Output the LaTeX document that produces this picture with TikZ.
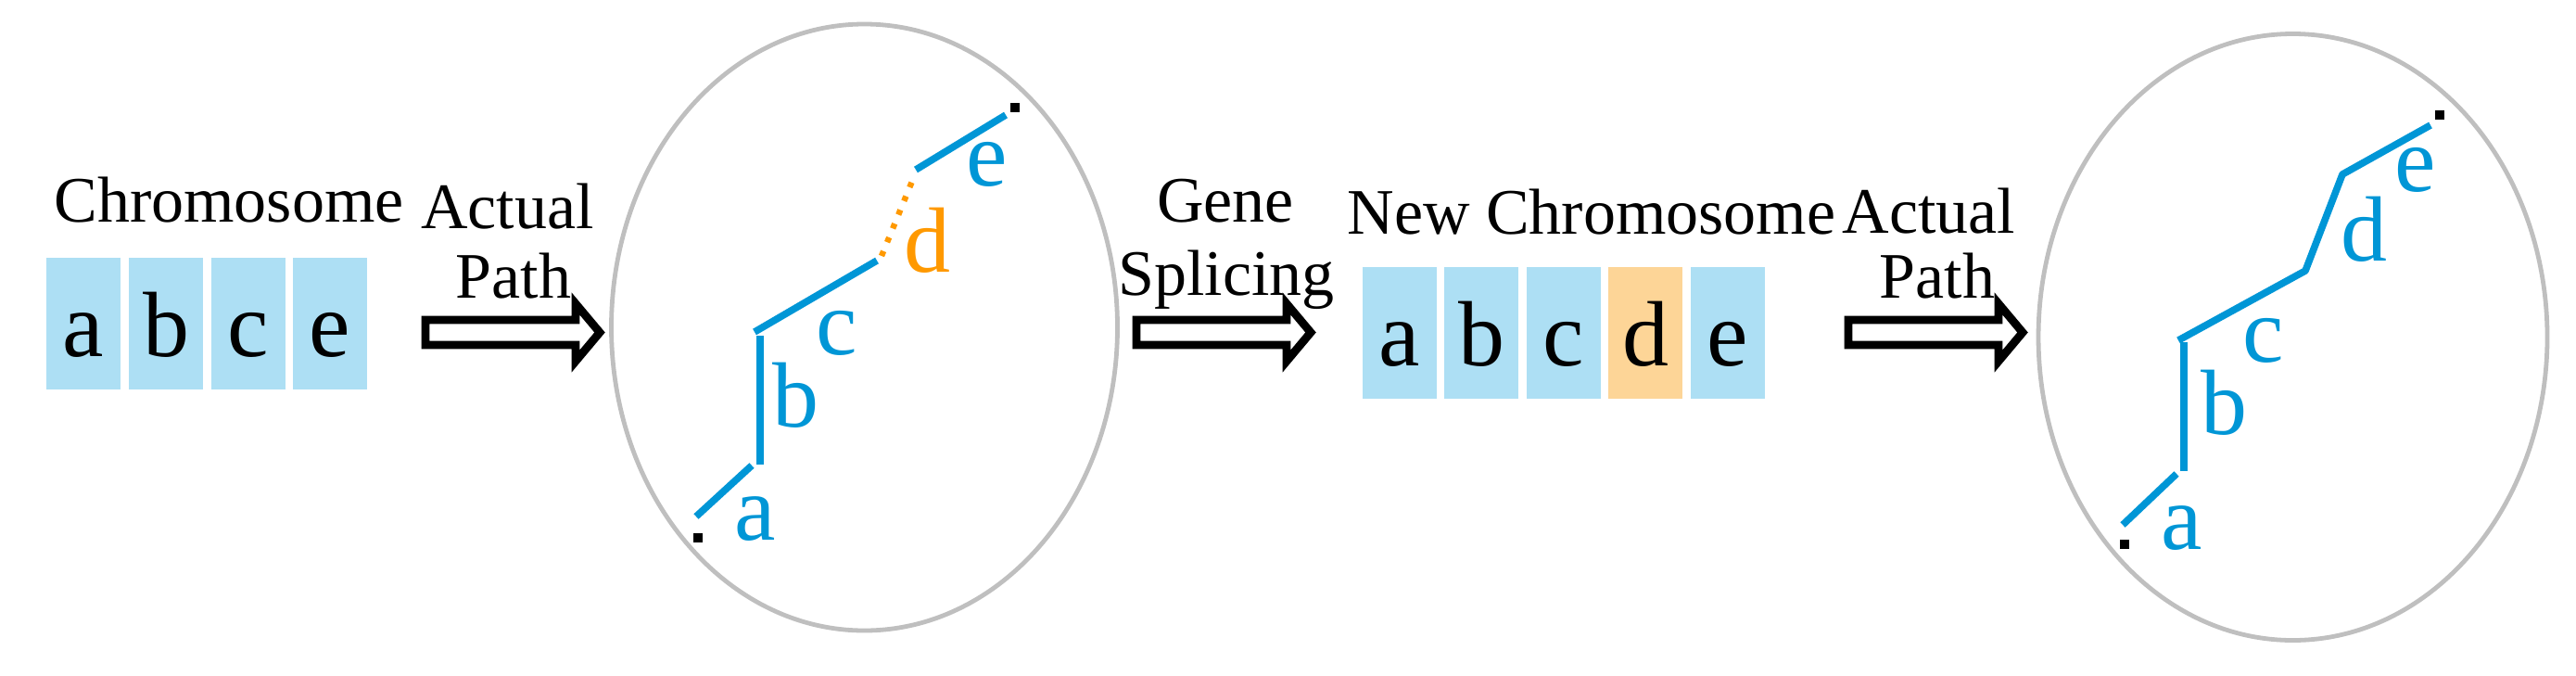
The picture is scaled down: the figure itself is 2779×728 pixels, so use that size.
\documentclass[tikz,border=0pt]{standalone}
\usepackage{fontspec}
\setmainfont{Liberation Serif}
\usetikzlibrary{shapes.geometric}
\definecolor{boxblue}{HTML}{ADDFF4}
\definecolor{boxorange}{HTML}{FDD597}
\definecolor{pathblue}{HTML}{0096D6}
\definecolor{pathorange}{HTML}{FF9900}
\definecolor{ringgray}{HTML}{BFBFBF}
\begin{document}
\begin{tikzpicture}[x=0.25pt,y=-0.25pt,
  txt/.style={font=\fontsize{17.5pt}{20pt}\selectfont, inner sep=0, anchor=base},
  gene/.style={minimum width=20pt, minimum height=35.5pt, inner sep=0, text height=18pt, text depth=0pt, font=\fontsize{25pt}{28pt}\selectfont},
  geneb/.style={gene, fill=boxblue},
  geneo/.style={gene, fill=boxorange},
  lbl/.style={font=\fontsize{25pt}{28pt}\selectfont, inner sep=0, text=pathblue},
  lblo/.style={lbl, text=pathorange},
  seg/.style={draw=pathblue, line width=1.9pt},
  gapseg/.style={draw=pathorange, line width=1.6pt, dash pattern=on 1.4pt off 2.6pt},
  endpt/.style={fill=black, minimum size=2.5pt, inner sep=0},
  ring/.style={ellipse, draw=ringgray, line width=1.2pt, inner sep=0},
  blk/.style={draw=black, line width=2.2pt, fill=white, line join=miter},
  blockarrow/.pic={\draw[blk] (0,-13.5) -- (162,-13.5) -- (162,-31) -- (188,0) -- (162,31) -- (162,13.5) -- (0,13.5) -- cycle;}
]
\useasboundingbox (0,0) rectangle (2779,728);

% ---- first chromosome ----
\node[txt] (chr) at (247,239) {Chromosome};
\node[geneb] (g1a) at (90,348.5) {a};
\node[geneb] (g1b) at (179,348.5) {b};
\node[geneb] (g1c) at (267.5,348.5) {c};
\node[geneb] (g1e) at (355.5,348.5) {e};

% ---- arrow 1 ----
\node[txt] (act1) at (547.5,246) {Actual};
\node[txt] (pth1) at (554,321) {Path};
\pic (arr1) at (459,358.5) {blockarrow};

% ---- ellipse 1 ----
\node[ring, minimum width=136.5pt, minimum height=163.5pt] (E1) at (932.5,353) {};
\node[endpt] (s1) at (753,580) {};
\node[endpt] (t1) at (1095,116) {};
\coordinate (a1s) at (751,557); \coordinate (a1e) at (811,502);
\coordinate (b1s) at (820,501); \coordinate (b1e) at (820,362);
\coordinate (c1s) at (814,358); \coordinate (c1e) at (946,281);
\coordinate (d1s) at (951,276); \coordinate (d1e) at (985,193);
\coordinate (e1s) at (988,183); \coordinate (e1e) at (1085,124);
\draw[seg] (a1s) -- (a1e);
\draw[seg] (b1s) -- (b1e);
\draw[seg] (c1s) -- (c1e);
\draw[gapseg] (d1s) -- (d1e);
\draw[seg] (e1s) -- (e1e);
\node[lbl] (la1) at (815,560) {a};
\node[lbl] (lb1) at (858,426) {b};
\node[lbl] (lc1) at (903,359) {c};
\node[lblo] (ld1) at (1000,259) {d};
\node[lbl] (le1) at (1065,177) {e};

% ---- arrow 2 ----
\node[txt] (gene) at (1322,239) {Gene};
\node[txt] (spl) at (1323,318) {Splicing};
\pic (arr2) at (1226,358.5) {blockarrow};

% ---- new chromosome ----
\node[txt] (nchr) at (1717,252) {New Chromosome};
\node[geneb] (g2a) at (1509.5,358.5) {a};
\node[geneb] (g2b) at (1598,358.5) {b};
\node[geneb] (g2c) at (1686.5,358.5) {c};
\node[geneo] (g2d) at (1775,358.5) {d};
\node[geneb] (g2e) at (1863.5,358.5) {e};

% ---- arrow 3 ----
\node[txt] (act2) at (2081,251) {Actual};
\node[txt] (pth2) at (2090,321) {Path};
\pic (arr3) at (1994,358.5) {blockarrow};

% ---- ellipse 2 ----
\node[ring, minimum width=137.25pt, minimum height=163.5pt] (E2) at (2473.5,363.5) {};
\node[endpt] (s2) at (2292,587) {};
\node[endpt] (t2) at (2632,124) {};
\coordinate (a2s) at (2290,566); \coordinate (a2e) at (2348,511);
\coordinate (b2s) at (2356,508); \coordinate (b2e) at (2356,369);
\coordinate (c2s) at (2350,367); \coordinate (c2e) at (2487,292);
\coordinate (d2e) at (2527,188); \coordinate (e2e) at (2622,135);
\draw[seg] (a2s) -- (a2e);
\draw[seg] (b2s) -- (b2e);
\draw[seg, line join=round] (c2s) -- (c2e) -- (d2e) -- (e2e);
\node[lbl] (la2) at (2354,570) {a};
\node[lbl] (lb2) at (2399,434) {b};
\node[lbl] (lc2) at (2442,367) {c};
\node[lbl] (ld2) at (2550,247) {d};
\node[lbl] (le2) at (2606,183) {e};
\end{tikzpicture}
\end{document}
